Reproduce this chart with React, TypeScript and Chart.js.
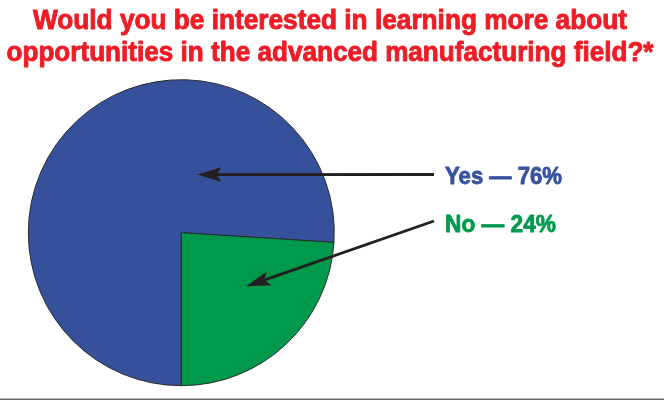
import React, { useEffect, useRef } from "react";
import { Chart, registerables } from "chart.js";

Chart.register(...registerables);

const titleLines = [
  "Would you be interested in learning more about",
  "opportunities in the advanced manufacturing field?*",
];
const categories = ["Yes", "No"];
const values = [76, 24];
const sliceColors = ["#35519B", "#00994B"];
const labelColors = ["#3852A0", "#009A4C"];

const FONT = "'Liberation Sans', Arial, sans-serif";

function drawFitText(
  ctx: CanvasRenderingContext2D,
  text: string,
  font: string,
  color: string,
  x: number,
  baseline: number,
  width: number,
  align: "left" | "center",
  bolden: number
) {
  ctx.save();
  ctx.font = font;
  ctx.fillStyle = color;
  ctx.strokeStyle = color;
  ctx.textBaseline = "alphabetic";
  ctx.textAlign = "left";
  const w = ctx.measureText(text).width;
  const sx = width / w;
  const left = align === "center" ? x - width / 2 : x;
  ctx.translate(left, baseline);
  ctx.scale(sx, 1);
  ctx.fillText(text, 0, 0);
  if (bolden > 0) {
    ctx.lineWidth = bolden;
    ctx.lineJoin = "round";
    ctx.strokeText(text, 0, 0);
  }
  ctx.restore();
}

function drawArrow(
  ctx: CanvasRenderingContext2D,
  x0: number,
  y0: number,
  x1: number,
  y1: number
) {
  const dx = x1 - x0;
  const dy = y1 - y0;
  const len = Math.hypot(dx, dy);
  const ux = dx / len;
  const uy = dy / len;
  const px = -uy;
  const py = ux;
  const L = 24;
  const W = 7.3;
  ctx.save();
  ctx.strokeStyle = "#231F20";
  ctx.fillStyle = "#231F20";
  ctx.lineWidth = 2.8;
  ctx.beginPath();
  ctx.moveTo(x0, y0);
  ctx.lineTo(x1 - ux * L * 0.75, y1 - uy * L * 0.75);
  ctx.stroke();
  ctx.beginPath();
  ctx.moveTo(x1, y1);
  ctx.lineTo(x1 - ux * L + px * W, y1 - uy * L + py * W);
  ctx.lineTo(x1 - ux * L * 0.8, y1 - uy * L * 0.8);
  ctx.lineTo(x1 - ux * L - px * W, y1 - uy * L - py * W);
  ctx.closePath();
  ctx.fill();
  ctx.restore();
}

const annotationPlugin = {
  id: "annotations",
  afterDraw(chart: any) {
    const ctx: CanvasRenderingContext2D = chart.ctx;
    const arc = chart.getDatasetMeta(0).data[0];
    const cx = arc.x;
    const cy = arc.y;
    const r = arc.outerRadius;

    // title
    const titleFont = `bold 27px ${FONT}`;
    drawFitText(ctx, titleLines[0], titleFont, "#EE1C25", 330, 29, 594, "center", 0.9);
    drawFitText(ctx, titleLines[1], titleFont, "#EE1C25", 330, 61, 647, "center", 0.9);

    // labels and arrows
    const labelFont = `bold 24px ${FONT}`;
    const labelX = 445;
    const baselines = [184, 232];
    const widths = [117, 111];
    const tails = [
      [434, 174.5],
      [434, 221],
    ];
    const tips = [
      [cx + r * 0.105, cy - r * 0.38],
      [cx + r * 0.425, cy + r * 0.35],
    ];
    categories.forEach((c, i) => {
      drawArrow(ctx, tails[i][0], tails[i][1], tips[i][0], tips[i][1]);
      drawFitText(
        ctx,
        `${c} \u2014 ${values[i]}%`,
        labelFont,
        labelColors[i],
        labelX,
        baselines[i],
        widths[i],
        "left",
        0.8
      );
    });

    // bottom rule
    ctx.save();
    ctx.fillStyle = "#6b6b6b";
    ctx.fillRect(0, 398.5, chart.width, 1.5);
    ctx.restore();
  },
};

export default function App() {
  const ref = useRef<HTMLCanvasElement | null>(null);

  useEffect(() => {
    document.body.style.margin = "0";
    const canvas = ref.current;
    if (!canvas) return;
    const chart = new Chart(canvas, {
      type: "pie",
      data: {
        labels: categories,
        datasets: [
          {
            data: values,
            backgroundColor: sliceColors,
            borderColor: "#2a2a2a",
            borderWidth: 1,
          },
        ],
      },
      options: {
        responsive: false,
        animation: false,
        rotation: 180,
        layout: {
          padding: { left: 27.8, top: 79.2, right: 329.2, bottom: 13.8 },
        },
        plugins: {
          legend: { display: false },
          tooltip: { enabled: false },
          title: { display: false },
        },
        events: [],
      },
      plugins: [annotationPlugin],
    });
    return () => chart.destroy();
  }, []);

  return (
    <div
      style={{
        position: "fixed",
        left: 0,
        top: 0,
        width: 664,
        height: 400,
        background: "#ffffff",
      }}
    >
      <canvas
        ref={ref}
        width={664}
        height={400}
        style={{ display: "block", width: 664, height: 400 }}
      />
    </div>
  );
}
